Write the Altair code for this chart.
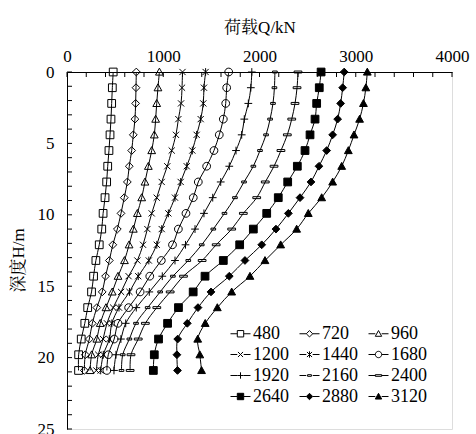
import altair as alt
import pandas as pd

# ---------------- data ----------------
depths = [0.0, 1.1, 2.2, 3.3, 4.4, 5.5, 6.6, 7.7, 8.8, 9.9,
          11.0, 12.1, 13.2, 14.3, 15.4, 16.5, 17.6, 18.7, 19.8, 20.9]

series_names = ["480", "720", "960", "1200", "1440", "1680",
                "1920", "2160", "2400", "2640", "2880", "3120"]

q480 = [480, 471, 464, 457, 447, 436, 423, 412, 395, 375, 361, 335, 300, 276, 255, 215, 185, 148, 121, 120]
q720 = [720, 717, 713, 706, 689, 672, 647, 627, 595, 561, 523, 476, 440, 400, 366, 310, 263, 232, 190, 180]
q960 = [960, 945, 932, 921, 907, 880, 845, 810, 776, 731, 689, 645, 597, 530, 470, 405, 345, 310, 256, 240]
q1200 = [1200, 1195, 1185, 1157, 1132, 1088, 1042, 984, 932, 880, 835, 790, 731, 640, 562, 480, 415, 375, 325, 305]
q1440 = [1440, 1423, 1416, 1389, 1347, 1302, 1244, 1181, 1122, 1053, 984, 933, 850, 740, 649, 540, 466, 440, 377, 350]
q1680 = [1680, 1659, 1649, 1624, 1582, 1527, 1451, 1364, 1312, 1236, 1157, 1096, 980, 860, 760, 640, 530, 490, 429, 414]
q1920 = [1920, 1910, 1884, 1842, 1815, 1756, 1686, 1597, 1514, 1423, 1330, 1231, 1122, 990, 855, 720, 610, 560, 509, 488]
q2160 = [2160, 2155, 2140, 2110, 2068, 2005, 1936, 1839, 1745, 1636, 1520, 1400, 1260, 1100, 968, 838, 717, 648, 579, 566]
q2400 = [2400, 2390, 2369, 2335, 2289, 2223, 2151, 2060, 1971, 1832, 1711, 1550, 1404, 1210, 1072, 933, 814, 740, 665, 656]
q2640 = [2640, 2621, 2594, 2577, 2525, 2473, 2393, 2293, 2195, 2075, 1936, 1794, 1624, 1434, 1311, 1158, 1045, 951, 907, 897]
q2880 = [2880, 2864, 2843, 2812, 2760, 2698, 2618, 2535, 2421, 2300, 2171, 2023, 1849, 1686, 1496, 1361, 1250, 1150, 1142, 1148]
q3120 = [3120, 3105, 3080, 3040, 2982, 2923, 2854, 2760, 2646, 2507, 2386, 2220, 2057, 1901, 1711, 1562, 1436, 1358, 1380, 1398]

all_series = [q480, q720, q960, q1200, q1440, q1680, q1920, q2160, q2400, q2640, q2880, q3120]

x_ticks = list(range(0, 4001, 200))
y_ticks = list(range(0, 26))
x_labels = [0, 1000, 2000, 3000, 4000]
y_labels = [0, 5, 10, 15, 20, 25]

rows = []
for name, vals in zip(series_names, all_series):
    for d, q in zip(depths, vals):
        rows.append({"series": name, "depth": d, "Q": q})
df = pd.DataFrame(rows)

# ---------------- marker shapes ----------------
def marker(kind, s):
    if kind == "square":
        return f"M{-s},{-s}H{s}V{s}H{-s}Z"
    if kind == "diamond":
        return f"M0,{-s}L{s},0L0,{s}L{-s},0Z"
    if kind == "triangle":
        return f"M0,{-s}L{s},{0.8*s}H{-s}Z"
    if kind == "x":
        a = 0.8 * s
        return f"M{-a},{-a}L{a},{a}M{-a},{a}L{a},{-a}"
    if kind == "star":
        a = 0.8 * s
        return f"M{-a},{-a}L{a},{a}M{-a},{a}L{a},{-a}M0,{-s}V{s}"
    if kind == "circle":
        return f"M{s},0A{s},{s},0,1,1,{-s},0A{s},{s},0,1,1,{s},0Z"
    if kind == "plus":
        return f"M{-s},0H{s}M0,{-s}V{s}"
    if kind == "dash_s":
        return f"M{-0.6*s},{-0.25*s}H{0.6*s}V{0.25*s}H{-0.6*s}Z"
    if kind == "dash_l":
        return f"M{-s},{-0.25*s}H{s}V{0.25*s}H{-s}Z"

kinds = ["square", "diamond", "triangle", "x", "star", "circle",
         "plus", "dash_s", "dash_l", "square", "diamond", "triangle"]
fills = ["transparent"] * 9 + ["black"] * 3
strokes = ["black"] * 12

plot_shapes = [marker(k, 1) for k in kinds]
ls = 0.32
legend_shapes = [f"M-1,0H{-ls}M{ls},0H1" + marker(k, ls) for k in kinds]

X_SCALE = alt.Scale(domain=[0, 4000], nice=False, zero=False)
Y_SCALE = alt.Scale(domain=[0, 25], nice=False, reverse=True)

serif = "Times New Roman, Liberation Serif, Noto Serif CJK SC, Noto Sans CJK SC"

x_axis = alt.Axis(orient="top", values=x_labels, format="d", title="荷载Q/kN", ticks=False, grid=False,
                  domainColor="black", domainWidth=1, labelFont=serif, labelFontSize=17,
                  labelColor="black", labelPadding=7, titleFont=serif, titleFontSize=17,
                  titleFontWeight="normal", titleColor="black", titlePadding=11,
                  labelFlush=False)
y_axis = alt.Axis(orient="left", values=y_labels, format="d", title="深度H/m", ticks=False, grid=False,
                  domainColor="black", domainWidth=1, labelFont=serif, labelFontSize=17,
                  labelColor="black", labelPadding=13, titleFont=serif, titleFontSize=17,
                  titleFontWeight="normal", titleColor="black", titlePadding=10,
                  titleY=188, labelFlush=False)

def make_legend():
    return alt.Legend(title=None, orient="none", legendX=163, legendY=251,
                      direction="horizontal", columns=3, columnPadding=8, rowPadding=1,
                      symbolSize=400, symbolStrokeWidth=1,
                      symbolStrokeColor="black", labelFont=serif,
                      labelFontSize=18, labelColor="black", labelOffset=2,
                      padding=0)

base = alt.Chart(df)

lines = base.mark_line(interpolate="catmull-rom", color="black", strokeWidth=1).encode(
    x=alt.X("Q:Q", scale=X_SCALE, axis=x_axis),
    y=alt.Y("depth:Q", scale=Y_SCALE, axis=y_axis),
    detail="series:N",
    order="depth:Q",
)

points = base.mark_point(filled=True, size=60, stroke="black", strokeWidth=1, opacity=1).encode(
    x=alt.X("Q:Q", scale=X_SCALE),
    y=alt.Y("depth:Q", scale=Y_SCALE),
    shape=alt.Shape("series:N", scale=alt.Scale(domain=series_names, range=plot_shapes), legend=None),
    fill=alt.Fill("series:N", scale=alt.Scale(domain=series_names, range=fills), legend=None),
)

legend_layer = base.transform_filter("false").mark_point(
    filled=True, size=400, strokeWidth=1, opacity=1
).encode(
    x=alt.X("Q:Q", scale=X_SCALE),
    y=alt.Y("depth:Q", scale=Y_SCALE),
    shape=alt.Shape("series:N", scale=alt.Scale(domain=series_names, range=legend_shapes),
                    legend=make_legend()),
    fill=alt.Fill("series:N", scale=alt.Scale(domain=series_names, range=fills),
                  legend=make_legend()),
    stroke=alt.Stroke("series:N", scale=alt.Scale(domain=series_names, range=strokes),
                      legend=make_legend()),
)

xt = alt.Chart(pd.DataFrame({"v": x_ticks})).mark_rule(color="black", strokeWidth=1).encode(
    x=alt.X("v:Q", scale=X_SCALE), y=alt.value(0), y2=alt.value(5)
)
yt = alt.Chart(pd.DataFrame({"w": y_ticks})).mark_rule(color="black", strokeWidth=1).encode(
    y=alt.Y("w:Q", scale=Y_SCALE), x=alt.value(0), x2=alt.value(5)
)

chart = alt.layer(lines, xt, yt, points, legend_layer).resolve_scale(
    shape="independent", fill="independent", stroke="independent"
).properties(
    width=385, height=357,
    autosize=alt.AutoSizeParams(type="none"),
    padding={"left": 67, "top": 72, "right": 24, "bottom": 5},
).configure_view(stroke=None).configure(background="white")

chart.save("out.html", embed_options={"renderer": "svg", "actions": False})
